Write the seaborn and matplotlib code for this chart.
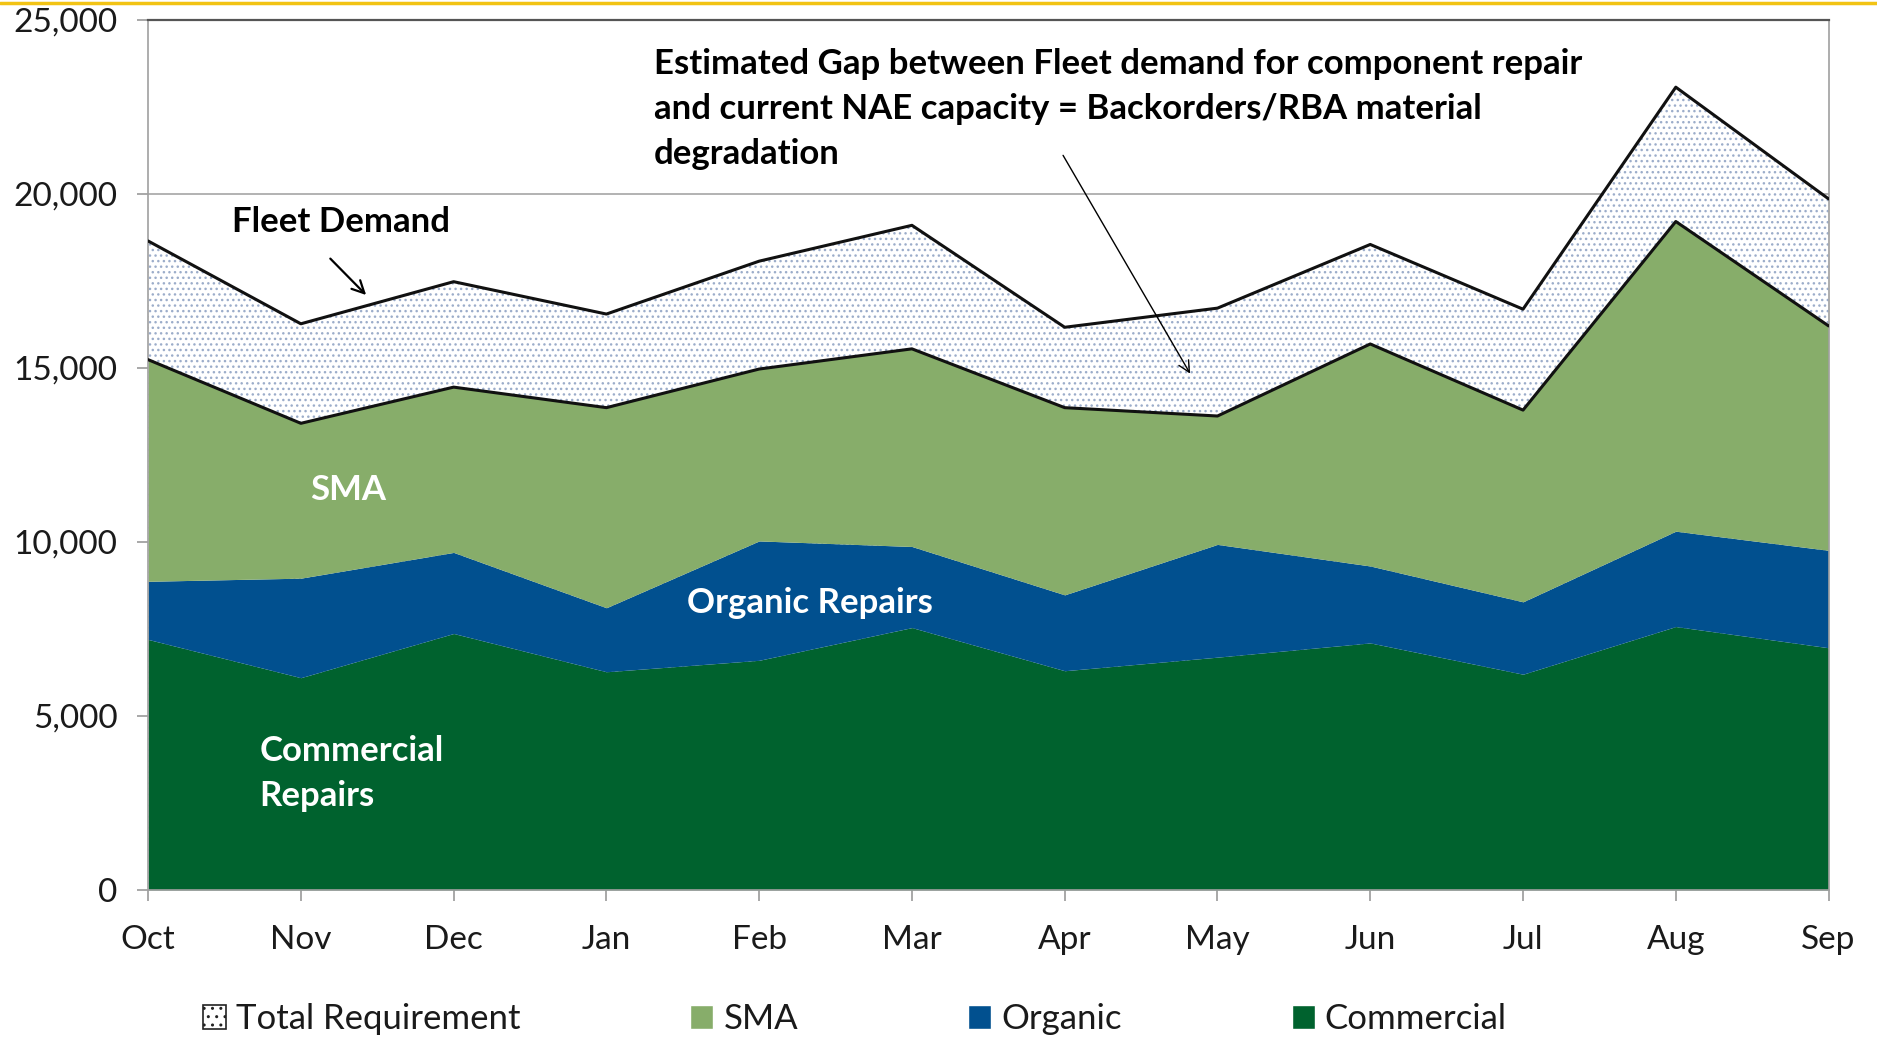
import numpy as np
import pandas as pd
import matplotlib.pyplot as plt
import seaborn as sns
from matplotlib.patches import Patch
from matplotlib.lines import Line2D
from matplotlib.ticker import FuncFormatter

# data
months = ['Oct', 'Nov', 'Dec', 'Jan', 'Feb', 'Mar', 'Apr', 'May', 'Jun', 'Jul', 'Aug', 'Sep']
commercial = [7200, 6100, 7370, 6270, 6600, 7540, 6300, 6690, 7100, 6200, 7570, 6960]
organic = [1670, 2860, 2330, 1840, 3430, 2330, 2180, 3240, 2210, 2080, 2740, 2800]
sma = [6370, 4450, 4750, 5750, 4940, 5680, 5380, 3690, 6380, 5510, 8900, 6450]
total_requirement = [18650, 16270, 17480, 16550, 18070, 19100, 16170, 16720, 18550, 16690, 23070, 19860]
y_ticks = [0, 5000, 10000, 15000, 20000, 25000]

df = pd.DataFrame({'month': months, 'commercial': commercial, 'organic': organic,
                   'sma': sma, 'total': total_requirement})
df['x'] = np.arange(len(df))
df['org_top'] = df['commercial'] + df['organic']
df['sma_top'] = df['org_top'] + df['sma']

sns.set_theme(style='white')
plt.rcParams['font.family'] = ['Lato', 'DejaVu Sans']
plt.rcParams['hatch.linewidth'] = 1.0

c_total = '#9cadca'
c_sma = '#87ad6a'
c_org = '#01508f'
c_com = '#00622e'

fig = plt.figure(figsize=(18.77, 10.37), dpi=100)
ax = fig.add_axes([0.0789, 0.1418, 0.8953, 0.8389])

# grid behind everything
for t in y_ticks[1:-1]:
    ax.axhline(t, color='#a6a6a6', lw=1.2, zorder=0)

# areas
ax.fill_between(df['x'], 0, df['total'], facecolor='white', edgecolor=c_total,
                hatch='...', linewidth=0, zorder=1)
ax.fill_between(df['x'], 0, df['commercial'], color=c_com, lw=0, zorder=2)
ax.fill_between(df['x'], df['commercial'], df['org_top'], color=c_org, lw=0, zorder=2)
ax.fill_between(df['x'], df['org_top'], df['sma_top'], color=c_sma, lw=0, zorder=2)

# outlines
sns.lineplot(data=df, x='x', y='total', color='#111111', lw=2.2, ax=ax, zorder=3)
sns.lineplot(data=df, x='x', y='sma_top', color='#111111', lw=2.2, ax=ax, zorder=3)

ax.set_xlim(0, len(months) - 1)
ax.set_ylim(0, 25000)
ax.set_xticks(df['x'])
ax.set_xticklabels(months)
ax.set_yticks(y_ticks)
ax.yaxis.set_major_formatter(FuncFormatter(lambda v, p: f'{int(v):,}'))
ax.set_xlabel('')
ax.set_ylabel('')
ax.tick_params(axis='both', labelsize=24, colors='#1a1a1a', length=8, width=1.2)
ax.tick_params(axis='x', pad=17, color='#999999')
ax.tick_params(axis='y', pad=14, color='#999999')
ax.tick_params(left=True, bottom=True)
for s in ['left', 'bottom', 'right']:
    ax.spines[s].set_color('#a0a0a0')
    ax.spines[s].set_linewidth(1.2)
ax.spines['top'].set_color('#555555')
ax.spines['top'].set_linewidth(1.6)

# annotations
ax.text(0.55, 19200, 'Fleet Demand', fontsize=25, fontweight='bold', color='black', va='center')
ax.annotate('', xy=(1.44, 17040), xytext=(1.18, 18200),
            arrowprops=dict(arrowstyle='->', color='black', lw=1.6, mutation_scale=22))
ax.text(3.31, 22450, 'Estimated Gap between Fleet demand for component repair\n'
        'and current NAE capacity = Backorders/RBA material\ndegradation',
        fontsize=25, fontweight='bold', color='black', va='center', linespacing=1.5)
ax.annotate('', xy=(6.83, 14770), xytext=(5.98, 21180),
            arrowprops=dict(arrowstyle='->', color='black', lw=1.0, mutation_scale=20))
ax.text(1.31, 11500, 'SMA', fontsize=25, fontweight='bold', color='white', ha='center', va='center')
ax.text(4.33, 8240, 'Organic Repairs', fontsize=25, fontweight='bold', color='white',
        ha='center', va='center')
ax.text(0.73, 3360, 'Commercial\nRepairs', fontsize=25, fontweight='bold', color='white',
        ha='left', va='center', linespacing=1.5)

# legend
handles = [Patch(facecolor='white', edgecolor='#222222', hatch='..', lw=1.2, label='Total Requirement'),
           Patch(facecolor=c_sma, label='SMA'),
           Patch(facecolor=c_org, label='Organic'),
           Patch(facecolor=c_com, label='Commercial')]
fig.legend(handles=handles, loc='center left', bbox_to_anchor=(0.108, 0.017), ncol=4,
           frameon=False, fontsize=25, handlelength=0.66, handleheight=0.66,
           handletextpad=0.29, columnspacing=4.9, borderpad=0, borderaxespad=0,
           labelcolor='#1a1a1a')

# thin yellow rule at the very top
fig.add_artist(Line2D([0, 1], [0.997, 0.997], transform=fig.transFigure, color='#f2c314', lw=2.5))

fig.savefig('out.png', dpi=100)
